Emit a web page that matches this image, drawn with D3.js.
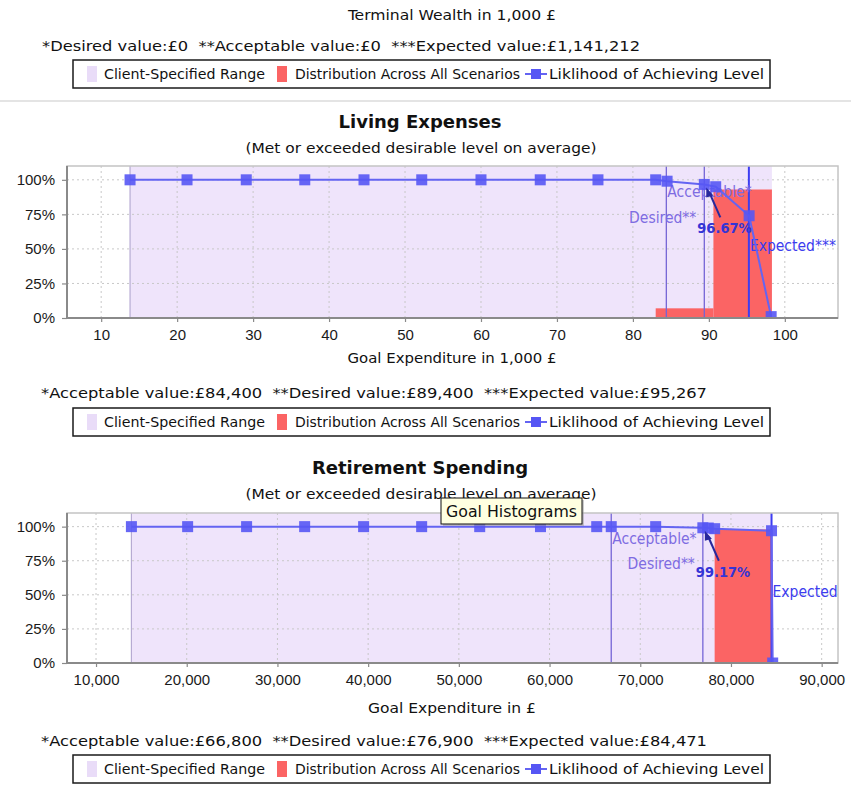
<!DOCTYPE html>
<html><head><meta charset="utf-8">
<script src="https://cdn.jsdelivr.net/npm/d3@7/dist/d3.min.js"></script>
<style>
body{margin:0;background:#fff;}
svg{display:block;}
text{white-space:pre;}
</style>
</head><body>
<script>
// ---------- data ----------
const topTitle = "Terminal Wealth in 1,000 £";
const topInfo = "*Desired value:£0  **Acceptable value:£0  ***Expected value:£1,141,212";
const legendLabels = ["Client-Specified Range", "Distribution Across All Scenarios", "Liklihood of Achieving Level"];

const chartTitles = ["Living Expenses", "Retirement Spending"];
const chartSubtitle = "(Met or exceeded desirable level on average)";
const axisTitles = ["Goal Expenditure in 1,000 £", "Goal Expenditure in £"];
const infoLines = [
  "*Acceptable value:£84,400  **Desired value:£89,400  ***Expected value:£95,267",
  "*Acceptable value:£66,800  **Desired value:£76,900  ***Expected value:£84,471"
];
const markerLabels = [["Acceptable*", "Desired**", "Expected***"], ["Acceptable*", "Desired**", "Expected"]];
const yTicks = [0, 0.25, 0.5, 0.75, 1];

// Living Expenses (in 1,000 £)
const livingLevels = [13.8, 21.3, 29.1, 36.8, 44.6, 52.2, 60.0, 67.8, 75.4, 83.0, 84.5, 89.4, 90.9, 95.3, 98.2];
const livingLikelihood = [1, 1, 1, 1, 1, 1, 1, 1, 1, 1, 0.99, 0.9667, 0.95, 0.74, 0.01];
const livingBinStart = [83.0, 90.6];
const livingBinEnd = [90.6, 98.3];
const livingBinShare = [0.07, 0.93];
const livingRange = [13.8, 98.3];
const livingMarks = {acceptable: 84.4, desired: 89.4, expected: 95.267};
const livingXTicks = [10, 20, 30, 40, 50, 60, 70, 80, 90, 100];
const livingXDomain = [5.5, 107];
const livingPctLabel = "96.67%";

// Retirement Spending (in £)
const retLevels = [13900, 20100, 26600, 33000, 39500, 45900, 52300, 59000, 65200, 66800, 71700, 76900, 77500, 78200, 84471, 84600];
const retLikelihood = [1, 1, 1, 1, 1, 1, 1, 1, 1, 1, 1, 0.9917, 0.99, 0.985, 0.97, 0];
const retBinStart = [78200];
const retBinEnd = [84471];
const retBinShare = [0.98];
const retRange = [13900, 84471];
const retMarks = {acceptable: 66800, desired: 76900, expected: 84471};
const retXTicks = [10000, 20000, 30000, 40000, 50000, 60000, 70000, 80000, 90000];
const retXDomain = [6800, 91800];
const retPctLabel = "99.17%";

// ---------- drawing ----------
const W = 851, H = 785;
const svg = d3.select("body").append("svg").attr("width", W).attr("height", H);
const condensed = "'DejaVu Sans Condensed','DejaVu Sans',sans-serif";
const sans = "'Liberation Sans',Arial,sans-serif";

const C = {
  range: "#efe4fb", rangeEdge: "#b7abd3", bar: "#fb6464", line: "#6464f2", pt: "#5656f4",
  markLine: "#7565d6", expLine: "#3d3df2", markText: "#7e6ce2", expText: "#3c3cee", pctText: "#3434d6",
  arrow: "#28289c", grid: "#c8c8c8", axis: "#8a8a8a", frame: "#c4c4c4"
};

function legend(y0) {
  const g = svg.append("g");
  g.append("rect").attr("x", 73).attr("y", y0).attr("width", 697).attr("height", 28)
    .attr("fill", "#fff").attr("stroke", "#1a1a1a").attr("stroke-width", 1.5);
  const cy = y0 + 14;
  g.append("rect").attr("x", 87).attr("y", cy - 8).attr("width", 10).attr("height", 16).attr("fill", "#e9dcf8");
  g.append("rect").attr("x", 277).attr("y", cy - 8).attr("width", 10).attr("height", 16).attr("fill", C.bar);
  g.append("line").attr("x1", 525).attr("x2", 547).attr("y1", cy).attr("y2", cy).attr("stroke", C.line).attr("stroke-width", 2);
  g.append("rect").attr("x", 531).attr("y", cy - 5).attr("width", 10).attr("height", 10).attr("fill", C.pt);
  const pos = [[104, 161], [295, 225], [549, 215]];
  legendLabels.forEach((t, i) => {
    g.append("text").attr("x", pos[i][0]).attr("y", cy + 5).text(t)
      .attr("font-family", condensed).attr("font-size", 14).attr("fill", "#111")
      .attr("textLength", pos[i][1]).attr("lengthAdjust", "spacingAndGlyphs");
  });
}

function infoText(t, x, y, len) {
  svg.append("text").attr("x", x).attr("y", y).text(t)
    .attr("font-family", condensed).attr("font-size", 14.5).attr("fill", "#111")
    .attr("textLength", len).attr("lengthAdjust", "spacingAndGlyphs");
}

// top section
svg.append("text").attr("x", 452).attr("y", 20).attr("text-anchor", "middle").text(topTitle)
  .attr("font-family", condensed).attr("font-size", 14.5).attr("fill", "#111")
  .attr("textLength", 208).attr("lengthAdjust", "spacingAndGlyphs");
infoText(topInfo, 42, 51, 598);
legend(60);
svg.append("rect").attr("x", 0).attr("y", 100).attr("width", W).attr("height", 2).attr("fill", "#e4e4e4");

function chart(cfg) {
  const L = 67, R = 838;
  const x = d3.scaleLinear().domain(cfg.xDomain).range([L, R]);
  const y = d3.scaleLinear().domain([0, 1.1]).range([cfg.bottom, cfg.top]);
  const g = svg.append("g");
  const clipId = "clip" + cfg.id;
  g.append("clipPath").attr("id", clipId).append("rect")
    .attr("x", L).attr("y", cfg.top).attr("width", R - L).attr("height", cfg.bottom - cfg.top);

  // titles
  g.append("text").attr("x", 420).attr("y", cfg.titleY).attr("text-anchor", "middle").text(cfg.title)
    .attr("font-family", "'DejaVu Sans',sans-serif").attr("font-weight", "bold").attr("font-size", 18).attr("fill", "#111");
  g.append("text").attr("x", 421).attr("y", cfg.subY).attr("text-anchor", "middle").text(chartSubtitle)
    .attr("font-family", "'DejaVu Sans',sans-serif").attr("font-size", 14).attr("fill", "#111")
    .attr("textLength", 351).attr("lengthAdjust", "spacingAndGlyphs");

  const p = g.append("g").attr("clip-path", `url(#${clipId})`);
  p.append("rect").attr("x", L).attr("y", cfg.top).attr("width", R - L).attr("height", cfg.bottom - cfg.top).attr("fill", "#fff");
  // client-specified range
  p.append("rect").attr("x", x(cfg.range[0])).attr("y", cfg.top)
    .attr("width", x(cfg.range[1]) - x(cfg.range[0])).attr("height", cfg.bottom - cfg.top).attr("fill", C.range);
  p.append("line").attr("x1", x(cfg.range[0])).attr("x2", x(cfg.range[0])).attr("y1", cfg.top).attr("y2", cfg.bottom)
    .attr("stroke", C.rangeEdge).attr("stroke-width", 1.2);
  // grid
  p.selectAll(".gx").data(cfg.xTicks).join("line").attr("x1", d => x(d)).attr("x2", d => x(d))
    .attr("y1", cfg.top).attr("y2", cfg.bottom).attr("stroke", C.grid).attr("stroke-dasharray", "2,3").attr("stroke-width", 1);
  p.selectAll(".gy").data(yTicks).join("line").attr("x1", L).attr("x2", R).attr("y1", d => y(d)).attr("y2", d => y(d))
    .attr("stroke", C.grid).attr("stroke-dasharray", "2,3").attr("stroke-width", 1);
  // histogram bars
  const bins = cfg.binStart.map((s, i) => ({s, e: cfg.binEnd[i], v: cfg.binShare[i]}));
  p.selectAll(".bar").data(bins).join("rect").attr("x", d => x(d.s)).attr("width", d => x(d.e) - x(d.s))
    .attr("y", d => y(d.v)).attr("height", d => cfg.bottom - y(d.v)).attr("fill", C.bar);
  // marker lines
  [["acceptable", C.markLine, 1.3], ["desired", C.markLine, 1.3], ["expected", C.expLine, 2]].forEach(([k, col, w]) => {
    p.append("line").attr("x1", x(cfg.marks[k])).attr("x2", x(cfg.marks[k])).attr("y1", cfg.top).attr("y2", cfg.bottom)
      .attr("stroke", col).attr("stroke-width", w);
  });
  // marker labels
  const lab = (t, xx, yy, anchor, col) => g.append("text").attr("x", xx).attr("y", yy).attr("text-anchor", anchor)
    .attr("dominant-baseline", "middle").text(t).attr("font-family", condensed).attr("font-size", 15.5).attr("fill", col);
  lab(cfg.labels[0], x(cfg.marks.acceptable) + 1, y(0.905), "start", C.markText);
  lab(cfg.labels[1], x(cfg.marks.desired) - 8, y(0.72), "end", C.markText);
  lab(cfg.labels[2], x(cfg.marks.expected) + 1, y(0.52), "start", C.expText);

  // likelihood line and points
  const q = g.append("g").attr("clip-path", `url(#${clipId})`);
  const pts = cfg.levels.map((v, i) => [v, cfg.likelihood[i]]);
  q.append("path").datum(pts).attr("d", d3.line().x(d => x(d[0])).y(d => y(d[1])))
    .attr("fill", "none").attr("stroke", C.line).attr("stroke-width", 2);
  q.selectAll(".pt").data(pts).join("rect").attr("x", d => x(d[0]) - 5.5).attr("y", d => y(d[1]) - 5.5)
    .attr("width", 11).attr("height", 11).attr("fill", C.pt).attr("fill-opacity", 0.9);

  // annotation at desired level
  const di = cfg.levels.indexOf(cfg.marks.desired);
  const px = x(cfg.marks.desired), py = y(cfg.likelihood[di]);
  q.append("text").attr("x", px - 7).attr("y", py + 45).attr("dominant-baseline", "middle").text(cfg.pctLabel)
    .attr("font-family", condensed).attr("font-size", 14.5).attr("font-weight", "bold").attr("fill", C.pctText);
  q.append("line").attr("x1", px + 16).attr("y1", py + 33).attr("x2", px + 5).attr("y2", py + 8)
    .attr("stroke", C.arrow).attr("stroke-width", 2);
  q.append("path").attr("d", `M${px + 2},${py + 3} L${px + 9},${py + 11} L${px + 2},${py + 13} Z`).attr("fill", C.arrow);

  // frame
  g.append("rect").attr("x", L).attr("y", cfg.top).attr("width", R - L).attr("height", cfg.bottom - cfg.top)
    .attr("fill", "none").attr("stroke", C.frame).attr("stroke-width", 1.5);
  // axes
  const ax = g.append("g").attr("transform", `translate(0,${cfg.bottom})`)
    .call(d3.axisBottom(x).tickValues(cfg.xTicks).tickFormat(cfg.fmt).tickSize(4).tickSizeOuter(0).tickPadding(7));
  const ay = g.append("g").attr("transform", `translate(${L},0)`)
    .call(d3.axisLeft(y).tickValues(yTicks).tickFormat(d3.format(".0%")).tickSize(5).tickSizeOuter(0).tickPadding(7));
  [ax, ay].forEach(a => {
    a.select(".domain").attr("stroke", C.axis).attr("stroke-width", 2);
    a.selectAll(".tick line").attr("stroke", C.axis).attr("stroke-width", 1.2);
    a.selectAll("text").attr("font-family", sans).attr("font-size", 15).attr("fill", "#1a1a1a");
  });
  ax.select(".domain").attr("d", `M${L},0H${R}`);
  ay.select(".domain").attr("d", `M0,${cfg.bottom}V${cfg.top}`);

  g.append("text").attr("x", 452).attr("y", cfg.axisY).attr("text-anchor", "middle").text(cfg.axisTitle)
    .attr("font-family", condensed).attr("font-size", 14.5).attr("fill", "#111")
    .attr("textLength", cfg.axisLen).attr("lengthAdjust", "spacingAndGlyphs");
  infoText(cfg.info, 41, cfg.infoY, 666);
  legend(cfg.legendY);
}

chart({id: 1, title: chartTitles[0], top: 166, bottom: 318, titleY: 128, subY: 153,
  xDomain: livingXDomain, xTicks: livingXTicks, fmt: d3.format("d"), range: livingRange,
  binStart: livingBinStart, binEnd: livingBinEnd, binShare: livingBinShare, marks: livingMarks,
  levels: livingLevels, likelihood: livingLikelihood, pctLabel: livingPctLabel, labels: markerLabels[0],
  axisTitle: axisTitles[0], axisY: 363, axisLen: 209, info: infoLines[0], infoY: 398, legendY: 408});

chart({id: 2, title: chartTitles[1], top: 513, bottom: 663, titleY: 474, subY: 499,
  xDomain: retXDomain, xTicks: retXTicks, fmt: d3.format(","), range: retRange,
  binStart: retBinStart, binEnd: retBinEnd, binShare: retBinShare, marks: retMarks,
  levels: retLevels, likelihood: retLikelihood, pctLabel: retPctLabel, labels: markerLabels[1],
  axisTitle: axisTitles[1], axisY: 713, axisLen: 168, info: infoLines[1], infoY: 746, legendY: 755});

// tooltip
const tip = svg.append("g");
tip.append("rect").attr("x", 443).attr("y", 500).attr("width", 141).attr("height", 26).attr("fill", "#999").attr("opacity", 0.5);
tip.append("rect").attr("x", 441).attr("y", 498).attr("width", 141).attr("height", 26).attr("fill", "#ffffe1").attr("stroke", "#111");
tip.append("text").attr("x", 446).attr("y", 517).text("Goal Histograms").attr("font-family", condensed).attr("font-size", 16)
  .attr("fill", "#111").attr("textLength", 131).attr("lengthAdjust", "spacingAndGlyphs");
</script>
</body></html>
